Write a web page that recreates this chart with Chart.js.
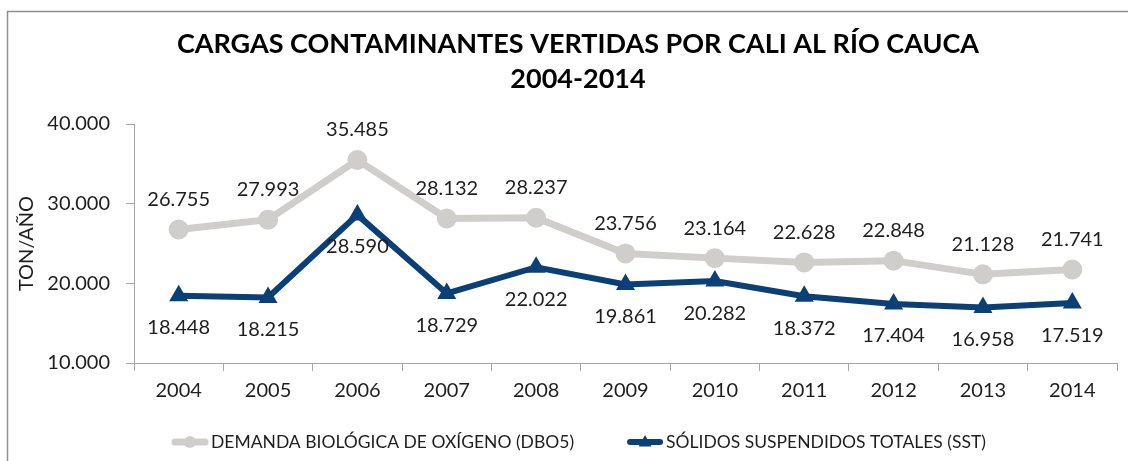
<!DOCTYPE html>
<html><head><meta charset="utf-8">
<script src="https://cdn.jsdelivr.net/npm/chart.js@4.4.0/dist/chart.umd.min.js"></script>
<style>html,body{margin:0;padding:0;background:#fff;overflow:hidden}#wrap{position:relative;width:1128px;height:461px}</style>
</head><body><div id="wrap"><canvas id="c" width="1128" height="461"></canvas></div>
<script>
const categories = ['2004','2005','2006','2007','2008','2009','2010','2011','2012','2013','2014'];
const dbo5 = [26755, 27993, 35485, 28132, 28237, 23756, 23164, 22628, 22848, 21128, 21741];
const sst = [18448, 18215, 28590, 18729, 22022, 19861, 20282, 18372, 17404, 16958, 17519];
const yTicks = [10000, 20000, 30000, 40000];
const seriesNames = ['DEMANDA BIOLÓGICA DE OXÍGENO (DBO5)', 'SÓLIDOS SUSPENDIDOS TOTALES (SST)'];
const titleLines = ['CARGAS CONTAMINANTES VERTIDAS POR CALI AL RÍO CAUCA', '2004-2014'];
const yTitle = 'TON/AÑO';

const GRAY = '#D0CECA', NAVY = '#0B4077', TXT = '#1E1E1E', AXIS = '#A6A6A6';
const FONT = 'Lato';

function fmt(n){ return String(n).replace(/\B(?=(\d{3})+(?!\d))/g, '.'); }

const framePlugin = {
  id: 'frame',
  beforeDraw(chart){
    const ctx = chart.ctx; ctx.save();
    ctx.strokeStyle = '#8E8E8E'; ctx.lineWidth = 1.5;
    ctx.beginPath(); ctx.moveTo(7.5, chart.height + 5); ctx.lineTo(7.5, 11.5); ctx.lineTo(chart.width + 5, 11.5); ctx.stroke();
    ctx.restore();
  }
};

const labelPlugin = {
  id: 'valueLabels',
  afterDatasetsDraw(chart){
    const ctx = chart.ctx; ctx.save();
    ctx.font = '20px ' + FONT; ctx.fillStyle = TXT; ctx.textAlign = 'center'; ctx.textBaseline = 'middle';
    chart.data.datasets.forEach((ds, i) => {
      const meta = chart.getDatasetMeta(i);
      meta.data.forEach((pt, j) => {
        const off = i === 0 ? -30 : 32;
        ctx.fillText(fmt(ds.data[j]), pt.x, pt.y + off);
      });
    });
    ctx.restore();
  }
};

const legendPlugin = {
  id: 'lineLegend',
  afterDraw(chart){
    const ctx = chart.ctx; ctx.save();
    const y = chart.height - 19;
    ctx.font = '17.5px ' + FONT;
    const sym = 36, gap = 3, spacing = 53;
    const w = seriesNames.map(s => ctx.measureText(s).width);
    const total = sym + gap + w[0] + spacing + sym + gap + w[1];
    let x = 579 - total / 2;
    chart.data.datasets.forEach((ds, i) => {
      ctx.strokeStyle = ds.borderColor; ctx.fillStyle = ds.borderColor;
      ctx.lineWidth = i === 0 ? 7 : 6; ctx.lineCap = 'round';
      ctx.beginPath(); ctx.moveTo(x + 3, y); ctx.lineTo(x + sym - 3, y); ctx.stroke();
      const cx = x + sym / 2;
      ctx.beginPath();
      if (i === 0) { ctx.arc(cx, y, 6, 0, Math.PI * 2); }
      else { ctx.moveTo(cx, y - 7); ctx.lineTo(cx + 6.5, y + 4.5); ctx.lineTo(cx - 6.5, y + 4.5); ctx.closePath(); }
      ctx.fill();
      ctx.fillStyle = TXT; ctx.textAlign = 'left'; ctx.textBaseline = 'middle';
      ctx.fillText(seriesNames[i], x + sym + gap, y);
      x += sym + gap + w[i] + spacing;
    });
    ctx.restore();
  }
};

new Chart(document.getElementById('c'), {
  type: 'line',
  data: {
    labels: categories,
    datasets: [
      { label: seriesNames[0], data: dbo5, borderColor: GRAY, backgroundColor: GRAY, borderWidth: 7,
        pointRadius: 10, pointHoverRadius: 10, pointBackgroundColor: GRAY, pointBorderWidth: 0, tension: 0 },
      { label: seriesNames[1], data: sst, borderColor: NAVY, backgroundColor: NAVY, borderWidth: 6,
        pointStyle: 'triangle', pointRadius: 11, pointHoverRadius: 11, pointBackgroundColor: NAVY, pointBorderWidth: 0, tension: 0 }
    ]
  },
  options: {
    responsive: false, animation: false, devicePixelRatio: 1,
    layout: { padding: { left: 28, right: 0, top: 17, bottom: 46 } },
    plugins: {
      legend: { display: false },
      tooltip: { enabled: false },
      title: { display: true, text: titleLines, color: '#000',
        font: { family: FONT, weight: 'bold', size: 27, lineHeight: '35px' },
        padding: { top: 10, bottom: 27 } }
    },
    scales: {
      x: {
        offset: true,
        grid: { offset: true, drawOnChartArea: false, drawTicks: true, tickLength: 8, color: AXIS },
        border: { color: AXIS, width: 1 },
        ticks: { color: TXT, font: { family: FONT, size: 20 }, padding: 8, maxRotation: 0 },
        afterFit(scale){ scale.height = 52; }
      },
      y: {
        min: 10000, max: 40000,
        afterBuildTicks(scale){ scale.ticks = yTicks.map(v => ({ value: v })); },
        grid: { drawOnChartArea: false, drawTicks: true, tickLength: 8, color: AXIS },
        border: { color: AXIS, width: 1 },
        ticks: { color: TXT, font: { family: FONT, size: 20 }, padding: 16, callback: v => fmt(v) },
        title: { display: true, text: yTitle, color: TXT, font: { family: FONT, size: 20 }, padding: { top: -13, bottom: 0 } },
        afterFit(scale){ scale.width = 106; }
      }
    }
  },
  plugins: [framePlugin, labelPlugin, legendPlugin]
});
</script></body></html>
